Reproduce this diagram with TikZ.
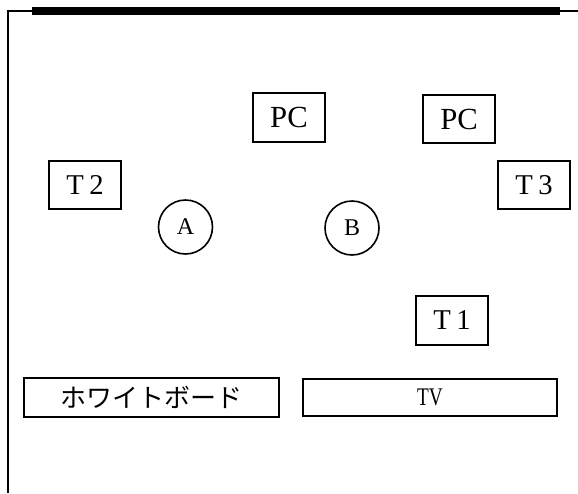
\documentclass[tikz,border=0pt]{standalone}
\usepackage{fontspec}
\usepackage{graphicx}
\setmainfont{Liberation Serif}
\newfontfamily\cjk{Noto Sans CJK JP}
\tikzset{
  wall/.style={line width=1.5pt},
  bar/.style={line width=6pt},
  itembox/.style={draw, line width=1.3pt, inner sep=0pt},
  seat/.style={draw, circle, line width=1.2pt, minimum size=54*0.75pt, inner sep=0pt, font=\fontsize{18}{18}\selectfont},
  lbl/.style={font=\fontsize{21.5}{21.5}\selectfont}
}
\begin{document}
\begin{tikzpicture}[x=0.75pt,y=-0.75pt]
\useasboundingbox (0,0) rectangle (578,493);
% walls
\coordinate (wtl) at (8,11);
\coordinate (wtr) at (578,11);
\coordinate (wbl) at (8,493);
\coordinate (bl) at (32,11);
\coordinate (br) at (560,11);
\draw[wall] (wtr) -- (wtl) -- (wbl);
\draw[bar] (bl) -- (br);
% boxes
\node[itembox, lbl, minimum width=72*0.75pt, minimum height=48*0.75pt] (t2) at (85,185) {T\kern4pt2};
\node[itembox, lbl, minimum width=72*0.75pt, minimum height=49*0.75pt] (pc1) at (289,117.5) {\fontsize{23}{23}\selectfont PC};
\node[itembox, lbl, minimum width=72*0.75pt, minimum height=48*0.75pt] (pc2) at (459,119) {\fontsize{23}{23}\selectfont PC};
\node[itembox, lbl, minimum width=72*0.75pt, minimum height=48*0.75pt] (t3) at (534,185) {T\kern4pt3};
\node[itembox, lbl, minimum width=72*0.75pt, minimum height=49*0.75pt] (t1) at (452,320.5) {T\kern4pt1};
\node[seat] (a) at (185.5,227) {A};
\node[seat] (b) at (352,228) {B};
\node[itembox, minimum width=255*0.75pt, minimum height=39*0.75pt] (wb) at (151.5,397.5) {\cjk\fontsize{19.5}{19.5}\selectfont ホワイトボード};
\node[itembox, minimum width=254*0.75pt, minimum height=37*0.75pt] (tv) at (430,397.5) {\fontsize{19}{19}\selectfont\scalebox{0.76}[1]{TV}};
\end{tikzpicture}
\end{document}
